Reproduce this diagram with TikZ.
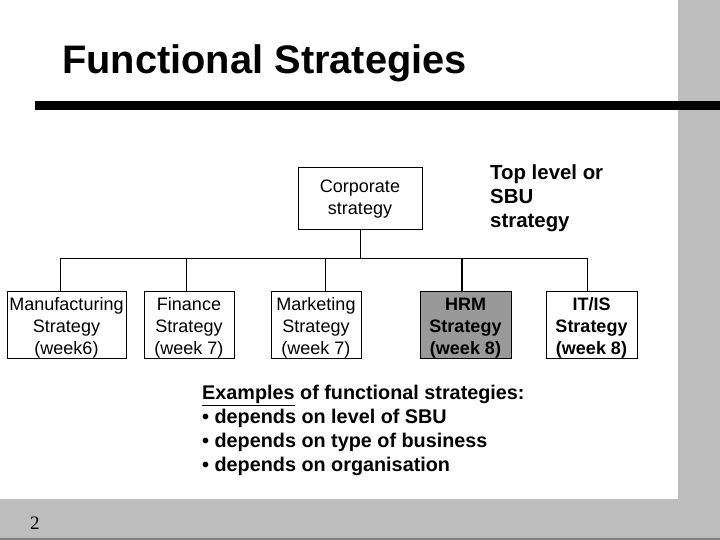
\documentclass[tikz,border=0pt]{standalone}
\usepackage{fontspec}
\setmainfont{Liberation Sans}
\newfontfamily\pagefont{Liberation Serif}
\usepackage{xcolor}
\usepackage{tikz}
\usetikzlibrary{calc}

\definecolor{slidegray}{RGB}{189,189,189}
\definecolor{hrmgray}{RGB}{153,153,153}

\newcommand{\topstrut}{\rule{0pt}{19.5pt}}

\tikzset{
	stratbox/.style = {draw, line width=1pt, align=center, inner sep=0pt, minimum height=62, font=\fontsize{18}{22}\selectfont},
	boldbox/.style = {stratbox, font=\fontsize{18}{22}\selectfont\bfseries},
	plaintext/.style = {inner sep=0pt, align=left},
}

\begin{document}
\begin{tikzpicture}[x=1pt, y=-1pt]
			\useasboundingbox (0,0) rectangle (720,540);

			\begin{scope}
				\fill[slidegray] (678,0) rectangle (720,540);
				\fill[slidegray] (0,499) rectangle (720,540);
				\draw[gray, line width=1.5pt] (0,539) -- (720,539);
				\fill (35,101) rectangle (720,110);
				\node[plaintext, anchor=base west, font=\fontsize{39.8}{45}\selectfont\bfseries] (title) at (62,74) {Functional Strategies};
				\node[plaintext, anchor=base west, font=\pagefont\fontsize{19}{22}\selectfont] (pagenum) at (30,529) {2};
			\end{scope}

			\node[stratbox, minimum width=124] (corp) at (360,199) {Corporate\\strategy};
			\node[plaintext, anchor=north west, font=\fontsize{20.4}{24}\selectfont\bfseries] (toplevel) at (490,165) {Top level or\\SBU\\strategy};

			\node[stratbox, minimum width=119] (manu) at (66.5,325) {\topstrut Manufacturing\\Strategy\\(week6)};
			\node[stratbox, minimum width=90] (fin) at (189,325) {\topstrut Finance\\Strategy\\(week 7)};
			\node[stratbox, minimum width=90] (mark) at (316,325) {\topstrut Marketing\\Strategy\\(week 7)};
			\node[boldbox, minimum width=91, fill=hrmgray] (hrm) at (465.5,325) {\topstrut HRM\\Strategy\\(week 8)};
			\node[boldbox, minimum width=91] (itis) at (591.5,325) {\topstrut IT/IS\\Strategy\\(week 8)};

			\coordinate (bus) at (0,258);
			\draw[line width=1pt] (corp.south) -- (corp.south |- bus);
			\draw[line width=1pt] ([xshift=-6]manu.north |- bus) -- ([xshift=-4]itis.north |- bus);
			\foreach \n/\dx in {manu/-6, fin/-3, mark/9, itis/-4}
				\draw[line width=1pt] ([xshift=\dx]\n.north) -- ([xshift=\dx]\n.north |- bus);
			\draw[line width=2pt] ([xshift=-3.5]hrm.north) -- ([xshift=-3.5]hrm.north |- bus);

			\node[plaintext, anchor=north west, font=\fontsize{19.8}{24}\selectfont\bfseries] (examples) at (202,385) {\underline{Examples} of functional strategies:\\• depends on level of SBU\\• depends on type of business\\• depends on organisation};
		\end{tikzpicture}
\end{document}
